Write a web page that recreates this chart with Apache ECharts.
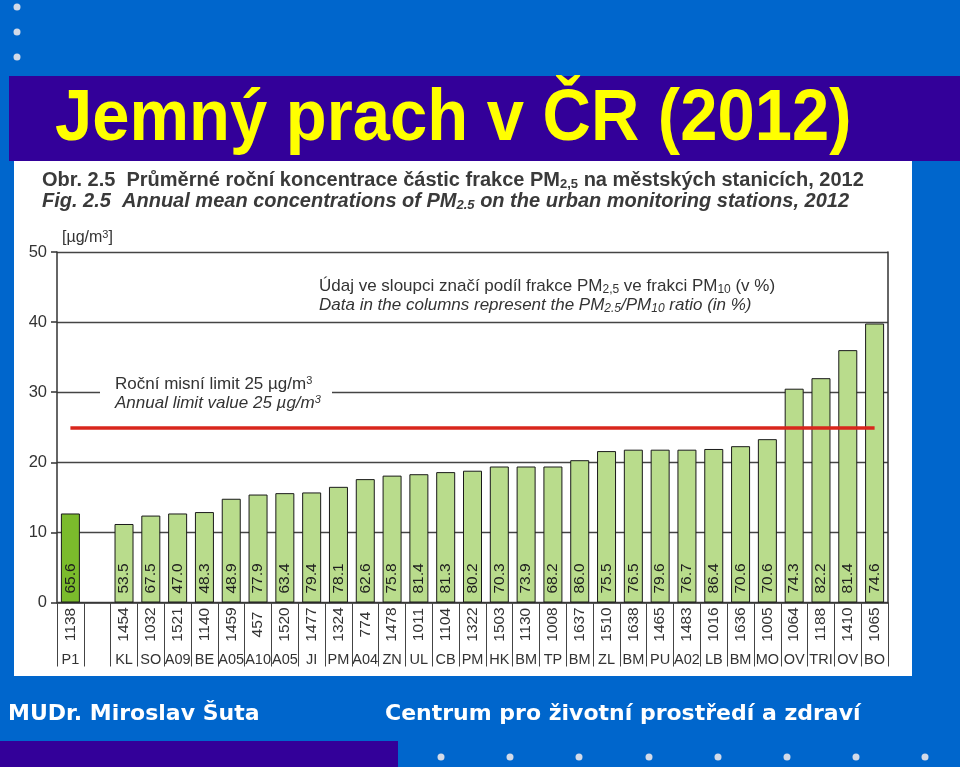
<!DOCTYPE html>
<html>
<head>
<meta charset="utf-8">
<script src="https://cdn.jsdelivr.net/npm/echarts@6/dist/echarts.min.js"></script>
<style>
html,body{margin:0;padding:0;background:#0066CC;}
#chart{width:960px;height:767px;}
</style>
</head>
<body>
<div id="chart"></div>
<script>
// Station codes (bottom row), sample counts (rotated row), PM2.5/PM10 ratio (in bars), annual mean PM2.5
var codes = ['P1','','KL','SO','A09','BE','A05','A10','A05','JI','PM','A04','ZN','UL','CB','PM','HK','BM','TP','BM','ZL','BM','PU','A02','LB','BM','MO','OV','TRI','OV','BO'];
var counts = ['1138','','1454','1032','1521','1140','1459','457','1520','1477','1324','774','1478','1011','1104','1322','1503','1130','1008','1637','1510','1638','1465','1483','1016','1636','1005','1064','1188','1410','1065'];
var ratios = [65.6,null,53.5,67.5,47.0,48.3,48.9,77.9,63.4,79.4,78.1,62.6,75.8,81.4,81.3,80.2,70.3,73.9,68.2,86.0,75.5,76.5,79.6,76.7,86.4,70.6,70.6,74.3,82.2,81.4,74.6];
var values = [12.7,null,11.2,12.4,12.7,12.9,14.8,15.4,15.6,15.7,16.5,17.6,18.1,18.3,18.6,18.8,19.4,19.4,19.4,20.3,21.6,21.8,21.8,21.8,21.9,22.3,23.3,30.5,32.0,36.0,39.8];
var yTicks = [0,10,20,30,40,50];
var limitValue = 25;

var cats = codes.map(function(c,i){return String(i);});
var barData = values.map(function(v,i){
  if (v === null) return '-';
  return {value: v, itemStyle: {color: i === 0 ? '#7BBB2C' : '#B9DC8C'}};
});

var FONT = '"Liberation Sans", Arial, sans-serif';
var chart = echarts.init(document.getElementById('chart'));

var graphics = [
  {type:'rect', shape:{x:0,y:0,width:960,height:767}, style:{fill:'#0066CC'}, z:-10, silent:true},
  {type:'circle', shape:{cx:17,cy:7,r:3.5}, style:{fill:'#D2DAE8'}, z:-9},
  {type:'circle', shape:{cx:17,cy:32,r:3.5}, style:{fill:'#D2DAE8'}, z:-9},
  {type:'circle', shape:{cx:17,cy:57,r:3.5}, style:{fill:'#D2DAE8'}, z:-9},
  {type:'rect', shape:{x:9,y:76,width:951,height:85}, style:{fill:'#330099'}, z:-9},
  {type:'text', x:55, y:120, scaleX:0.93, style:{text:'Jemný prach v ČR (2012)', fill:'#FFFF00', font:'bold 72px ' + FONT, verticalAlign:'middle'}, z:-8},
  {type:'rect', shape:{x:14,y:161,width:898,height:515}, style:{fill:'#FFFFFF'}, z:-9},
  {type:'rect', shape:{x:0,y:741,width:398,height:26}, style:{fill:'#330099'}, z:-9},
  {type:'text', x:8, y:714, style:{text:'MUDr. Miroslav Šuta', fill:'#FFFFFF', font:'bold 22px "DejaVu Sans", Verdana, sans-serif', verticalAlign:'middle'}, z:-8},
  {type:'text', x:385, y:714, style:{text:'Centrum pro životní prostředí a zdraví', fill:'#FFFFFF', font:'bold 22px "DejaVu Sans", Verdana, sans-serif', verticalAlign:'middle'}, z:-8},
  // header texts of the figure
  {type:'text', x:42, y:180, style:{text:'Obr. 2.5  Průměrné roční koncentrace částic frakce PM{s|2,5} na městských stanicích, 2012', fill:'#3A3A3A', font:'bold 20px ' + FONT, verticalAlign:'middle', rich:{s:{fontSize:13, fontWeight:'bold', fontFamily:'Liberation Sans', fill:'#3A3A3A', padding:[9,0,0,0]}}}, z:5},
  {type:'text', x:42, y:201, style:{text:'Fig. 2.5  Annual mean concentrations of PM{s|2.5} on the urban monitoring stations, 2012', fill:'#3A3A3A', font:'italic bold 20px ' + FONT, verticalAlign:'middle', rich:{s:{fontSize:13, fontStyle:'italic', fontWeight:'bold', fontFamily:'Liberation Sans', fill:'#3A3A3A', padding:[9,0,0,0]}}}, z:5},
  {type:'text', x:62, y:238, style:{text:'[µg/m{p|3}]', fill:'#333333', font:'16px ' + FONT, verticalAlign:'middle', rich:{p:{fontSize:11, fontFamily:'Liberation Sans', fill:'#333333', padding:[0,0,7,0]}}}, z:5},
  {type:'text', x:319, y:286, style:{text:'Údaj ve sloupci značí podíl frakce PM{s|2,5} ve frakci PM{s|10} (v %)', fill:'#333333', font:'17px ' + FONT, verticalAlign:'middle', rich:{s:{fontSize:12, fontFamily:'Liberation Sans', fill:'#333333', padding:[7,0,0,0]}}}, z:5},
  {type:'text', x:319, y:305, style:{text:'Data in the columns represent the PM{s|2.5}/PM{s|10} ratio (in %)', fill:'#333333', font:'italic 17px ' + FONT, verticalAlign:'middle', rich:{s:{fontSize:12, fontStyle:'italic', fontFamily:'Liberation Sans', fill:'#333333', padding:[7,0,0,0]}}}, z:5},
  {type:'rect', shape:{x:100,y:372,width:232,height:42}, style:{fill:'#FFFFFF'}, z:4},
  {type:'text', x:115, y:384, style:{text:'Roční misní limit 25 µg/m{p|3}', fill:'#333333', font:'17px ' + FONT, verticalAlign:'middle', rich:{p:{fontSize:11, fontFamily:'Liberation Sans', fill:'#333333', padding:[0,0,7,0]}}}, z:5},
  {type:'text', x:115, y:403, style:{text:'Annual limit value 25 µg/m{p|3}', fill:'#333333', font:'italic 17px ' + FONT, verticalAlign:'middle', rich:{p:{fontSize:11, fontStyle:'italic', fontFamily:'Liberation Sans', fill:'#333333', padding:[0,0,7,0]}}}, z:5}
];
[441,510,579,649,718,787,856,925].forEach(function(cx){
  graphics.push({type:'circle', shape:{cx:cx,cy:757,r:3.5}, style:{fill:'#D2DAE8'}, z:-9});
});

chart.setOption({
  backgroundColor: 'transparent',
  animation: false,
  graphic: graphics,
  grid: {left: 57, right: 72, top: 252, bottom: 164.5, containLabel: false},
  xAxis: [{
    type: 'category', data: cats, gridIndex: 0, position: 'bottom',
    axisLine: {show: true, lineStyle: {color: '#333', width: 1.5}},
    axisTick: {show: true, length: 64, lineStyle: {color: '#444', width: 1}},
    axisLabel: {
      rotate: 90, margin: 22, align: 'center', verticalAlign: 'middle',
      fontFamily: FONT, fontSize: 15.5, color: '#333', interval: 0,
      formatter: function(v){ return counts[+v]; }
    }
  },{
    type: 'category', data: cats, gridIndex: 0, position: 'bottom',
    axisLine: {show: false}, axisTick: {show: false},
    axisLabel: {
      margin: 50, fontFamily: FONT, fontSize: 14.5, color: '#333', interval: 0,
      formatter: function(v){ return codes[+v]; }
    }
  }],
  yAxis: [{
    type: 'value', min: 0, max: 50, interval: 10,
    axisLine: {show: true, lineStyle: {color: '#333', width: 1.5}},
    axisTick: {show: true, length: 6, lineStyle: {color: '#333', width: 1.5}},
    axisLabel: {fontFamily: FONT, fontSize: 16.5, color: '#333', margin: 10,
      formatter: function(v){ return yTicks.indexOf(v) >= 0 ? String(v) : ''; }},
    splitLine: {show: true, lineStyle: {color: '#444', width: 1.3}}
  },{
    type: 'value', min: 0, max: 50, interval: 10, position: 'right',
    axisLine: {show: true, lineStyle: {color: '#333', width: 1.5}},
    axisTick: {show: false}, axisLabel: {show: false}, splitLine: {show: false}
  }],
  series: [{
    type: 'line', data: [], z: 1, silent: true,
    markLine: {
      silent: true, symbol: 'none', label: {show: false},
      lineStyle: {color: '#D9261C', width: 3.5, type: 'solid'},
      data: [[{coord: ['0', limitValue]}, {coord: [String(codes.length - 1), limitValue]}]]
    }
  },{
    type: 'bar', data: barData, barWidth: 19, z: 3,
    itemStyle: {borderColor: '#1A1A1A', borderWidth: 1},
    label: {
      show: true, position: 'insideBottom', distance: 9, rotate: 90,
      align: 'left', verticalAlign: 'middle',
      fontFamily: FONT, fontSize: 15.5, color: '#1E1E1E',
      formatter: function(p){ var r = ratios[p.dataIndex]; return r === null ? '' : r.toFixed(1); }
    }
  }]
});
</script>
</body>
</html>
